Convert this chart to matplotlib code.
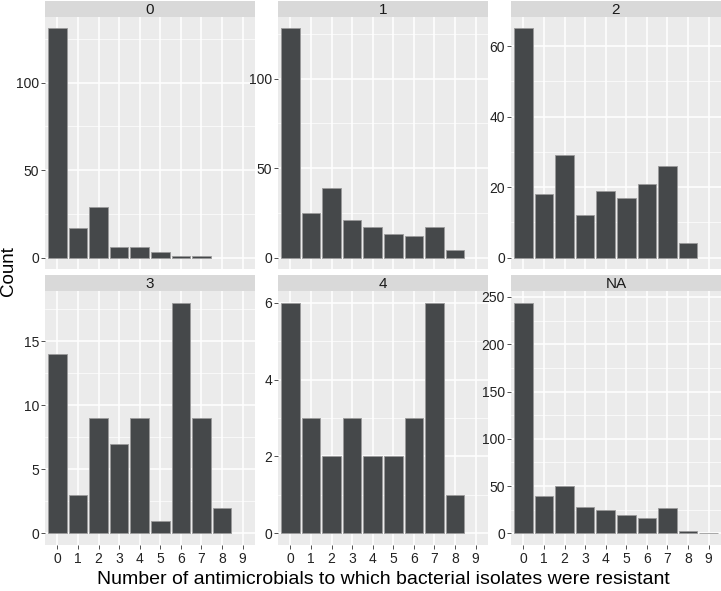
import matplotlib.pyplot as plt
from matplotlib.ticker import MultipleLocator

plt.rcParams['font.family'] = ['Liberation Sans', 'DejaVu Sans']

n_resistant = [0, 1, 2, 3, 4, 5, 6, 7, 8, 9]
panel_names = ['0', '1', '2', '3', '4', 'NA']

counts_0 = [131, 17, 29, 6, 6, 3, 1, 1, 0, 0]
counts_1 = [128, 25, 39, 21, 17, 13, 12, 17, 4, 0]
counts_2 = [65, 18, 29, 12, 19, 17, 21, 26, 4, 0]
counts_3 = [14, 3, 9, 7, 9, 1, 18, 9, 2, 0]
counts_4 = [6, 3, 2, 3, 2, 2, 3, 6, 1, 0]
counts_na = [244, 40, 50, 28, 25, 19, 16, 27, 3, 1]

all_counts = [counts_0, counts_1, counts_2, counts_3, counts_4, counts_na]
major_steps = [50, 50, 20, 5, 2, 50]

W, H = 721, 591
fig = plt.figure(figsize=(W / 100, H / 100), dpi=100)

col_left = [45, 278, 511]
col_width = 210
rows = [(17, 269), (291, 545)]   # panel top, bottom in px
strip_h = 16.5

for i, (name, counts) in enumerate(zip(panel_names, all_counts)):
    r, c = divmod(i, 3)
    top, bottom = rows[r]
    ax = fig.add_axes([col_left[c] / W, 1 - bottom / H, col_width / W, (bottom - top) / H])
    ax.set_facecolor('#EBEBEB')
    for s in ax.spines.values():
        s.set_visible(False)

    # empty counts are not drawn (no rows in the data)
    xs = [x for x, v in zip(n_resistant, counts) if v > 0]
    vs = [v for v in counts if v > 0]
    ax.bar(xs, vs, width=0.9, color='#45484a', edgecolor='#9a9a9a', linewidth=0.6, zorder=3)

    ymax = max(counts)
    ax.set_ylim(-0.05 * ymax, 1.05 * ymax)
    ax.set_xlim(-0.6, 9.6)
    step = major_steps[i]
    ax.yaxis.set_major_locator(MultipleLocator(step))
    ax.yaxis.set_minor_locator(MultipleLocator(step / 2))
    ax.set_xticks(n_resistant)
    ax.grid(which='major', color='white', linewidth=1.1, zorder=0)
    ax.grid(which='minor', axis='y', color='white', linewidth=0.5, zorder=0)
    ax.set_axisbelow(True)
    ax.tick_params(axis='y', which='minor', length=0)
    ax.tick_params(axis='both', which='major', length=2.75, width=0.6, color='#333333',
                   labelsize=10, labelcolor='#222222', pad=1.5)
    ax.tick_params(axis='x', pad=2.5)
    if r == 0:
        ax.tick_params(axis='x', length=0, labelbottom=False)

    sax = fig.add_axes([col_left[c] / W, 1 - top / H, col_width / W, strip_h / H])
    sax.set_facecolor('#D9D9D9')
    sax.set_xticks([])
    sax.set_yticks([])
    for s in sax.spines.values():
        s.set_visible(False)
    sax.text(0.5, 0.45, name, ha='center', va='center', fontsize=11,
             color='#1A1A1A', transform=sax.transAxes)

fig.text(9 / W, 1 - 271 / H, 'Count', rotation=90, ha='center', va='center', fontsize=13.5)
fig.text(383 / W, 1 - 580 / H, 'Number of antimicrobials to which bacterial isolates were resistant',
         ha='center', va='center', fontsize=14)

fig.savefig('out.png', dpi=100)
